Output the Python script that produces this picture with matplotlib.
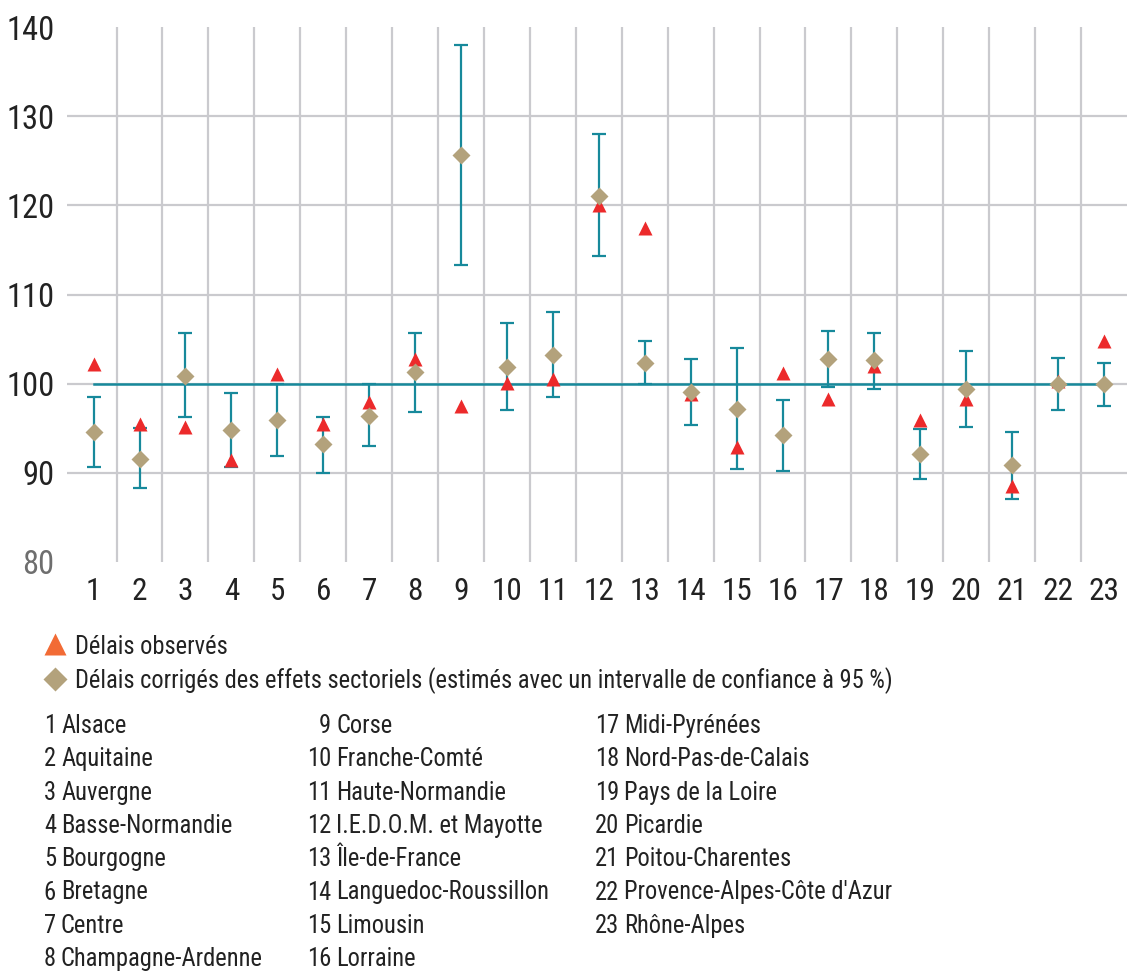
import matplotlib

matplotlib.use("Agg")
import matplotlib.pyplot as plt
from matplotlib import font_manager
from matplotlib.lines import Line2D

# --- Donnees ---
regions = [
    "Alsace", "Aquitaine", "Auvergne", "Basse-Normandie", "Bourgogne",
    "Bretagne", "Centre", "Champagne-Ardenne", "Corse", "Franche-Comté",
    "Haute-Normandie", "I.E.D.O.M. et Mayotte", "Île-de-France",
    "Languedoc-Roussillon", "Limousin", "Lorraine", "Midi-Pyrénées",
    "Nord-Pas-de-Calais", "Pays de la Loire", "Picardie", "Poitou-Charentes",
    "Provence-Alpes-Côte d'Azur", "Rhône-Alpes",
]
num_regions = list(range(1, 24))

delais_observes = [
    102.2, 95.4, 95.1, 91.4, 101.1, 95.5, 97.9, 102.8, 97.5, 100.1, 100.5,
    120.0, 117.5, 98.8, 92.9, 101.2, 98.3, 102.0, 95.9, 98.3, 88.5, 100.3,
    104.8,
]
delais_corriges = [
    94.5, 91.5, 100.9, 94.8, 95.9, 93.2, 96.4, 101.3, 125.7, 101.9, 103.2,
    121.1, 102.3, 99.1, 97.1, 94.2, 102.8, 102.6, 92.1, 99.4, 90.8, 100.0,
    100.0,
]
ic_haut = [
    98.5, 95.0, 105.7, 98.9, 99.9, 96.2, 99.9, 105.7, 138.0, 106.8, 108.0,
    128.0, 104.8, 102.7, 104.0, 98.1, 105.9, 105.7, 94.9, 103.6, 94.5, 102.9,
    102.3,
]
ic_bas = [
    90.6, 88.3, 96.2, 90.6, 91.9, 90.0, 93.0, 96.8, 113.3, 97.0, 98.5,
    114.3, 99.9, 95.3, 90.4, 90.2, 99.6, 99.4, 89.3, 95.1, 87.0, 97.0, 97.5,
]
reference = 100
yticks = [80, 90, 100, 110, 120, 130, 140]

legende_obs = "Délais observés"
legende_corr = "Délais corrigés des effets sectoriels (estimés avec un intervalle de confiance à 95 %)"

ROUGE = "#EC2A2B"
ORANGE = "#F26B35"
BEIGE = "#B3A27C"
BLEU = "#17899B"
GRIS = "#CACACE"
TEXTE = "#222222"


def choisir_police() -> None:
    """Police etroite si possible (le graphique d'origine est en condense)."""
    polices = font_manager.fontManager.ttflist
    noms = {f.name for f in polices}
    for nom in ["Liberation Sans Narrow", "Roboto Condensed", "Open Sans Condensed", "Arial Narrow"]:
        if nom in noms:
            plt.rcParams["font.family"] = [nom, "DejaVu Sans"]
            return
    for f in polices:
        if "Condensed" in f.name or "Narrow" in f.name:
            plt.rcParams["font.family"] = [f.name, "DejaVu Sans"]
            return
    if any(f.name == "DejaVu Sans" and f.stretch == "condensed" for f in polices):
        plt.rcParams["font.family"] = ["DejaVu Sans"]
        plt.rcParams["font.stretch"] = "condensed"
        return
    plt.rcParams["font.family"] = ["Liberation Sans", "DejaVu Sans"]


choisir_police()

fig = plt.figure(figsize=(11.27, 9.71), dpi=100)
renderer = fig.canvas.get_renderer()


def largeur(texte: str, taille: float) -> float:
    t = fig.text(0, 0, texte, fontsize=taille)
    w = t.get_window_extent(renderer).width
    t.remove()
    return w


# tailles ajustees sur la largeur du texte d'origine
taille_txt = 16 * max(0.8, min(1.3, 822 / largeur(legende_corr, 16)))
taille_ticks = 22.5 * max(0.82, min(1.3, 48 / largeur("140", 22.5)))

ax = fig.add_axes([0.0594, 0.4217, 0.9406, 0.55])

# grille
for y in yticks[1:-1]:
    ax.axhline(y, color=GRIS, lw=1.6, zorder=0)
for k in num_regions[:-1]:
    ax.axvline(k + 0.5, color=GRIS, lw=1.6, zorder=0)

ax.plot([num_regions[0], num_regions[-1]], [reference, reference], color=BLEU, lw=1.8, zorder=1)

# intervalles de confiance a 95 %
centres = [(h + b) / 2 for h, b in zip(ic_haut, ic_bas)]
demi = [(h - b) / 2 for h, b in zip(ic_haut, ic_bas)]
ax.errorbar(num_regions, centres, yerr=demi, fmt="none", ecolor=BLEU,
            elinewidth=1.6, capsize=5, capthick=1.6, zorder=2)

ax.plot(num_regions, delais_observes, ls="none", marker="^", ms=10,
        color=ROUGE, mec="none", zorder=3)
ax.plot(num_regions, delais_corriges, ls="none", marker="D", ms=8.8,
        color=BEIGE, mec="none", zorder=4)

ax.set_xlim(0.42, 23.5)
ax.set_ylim(80, 140)
ax.set_xticks(num_regions)
ax.set_xticklabels([str(n) for n in num_regions], fontsize=taille_ticks * 0.96, color=TEXTE)
ax.set_yticks(yticks)
ax.set_yticklabels([str(y) for y in yticks], fontsize=taille_ticks, color=TEXTE)
ax.get_yticklabels()[0].set_color("#6E6E6E")
ax.tick_params(axis="both", length=0)
ax.tick_params(axis="x", pad=11)
ax.tick_params(axis="y", pad=9)
for s in ax.spines.values():
    s.set_visible(False)

# --- Legende et liste des regions (coordonnees en pixels) ---
bas = fig.add_axes([0, 0, 1, 1], zorder=-1)
bas.set_xlim(0, 1127)
bas.set_ylim(971, 0)
bas.axis("off")

bas.add_line(Line2D([55], [644], marker="^", ms=16, color=ORANGE, mec="none"))
bas.add_line(Line2D([55], [679], marker="D", ms=12, color=BEIGE, mec="none"))
bas.text(75, 654, legende_obs, fontsize=taille_txt, color=TEXTE, va="baseline")
bas.text(75, 688, legende_corr, fontsize=taille_txt, color=TEXTE, va="baseline")

colonnes = [(56, 0, 8), (331, 8, 16), (619, 16, 23)]
for x_num, debut, fin in colonnes:
    for i, idx in enumerate(range(debut, fin)):
        y = 733 + 33.3 * i
        bas.text(x_num, y, str(num_regions[idx]), fontsize=taille_txt, color=TEXTE,
                 ha="right", va="baseline")
        bas.text(x_num + 5, y, regions[idx], fontsize=taille_txt, color=TEXTE,
                 ha="left", va="baseline")

fig.savefig("out.png", dpi=100)
